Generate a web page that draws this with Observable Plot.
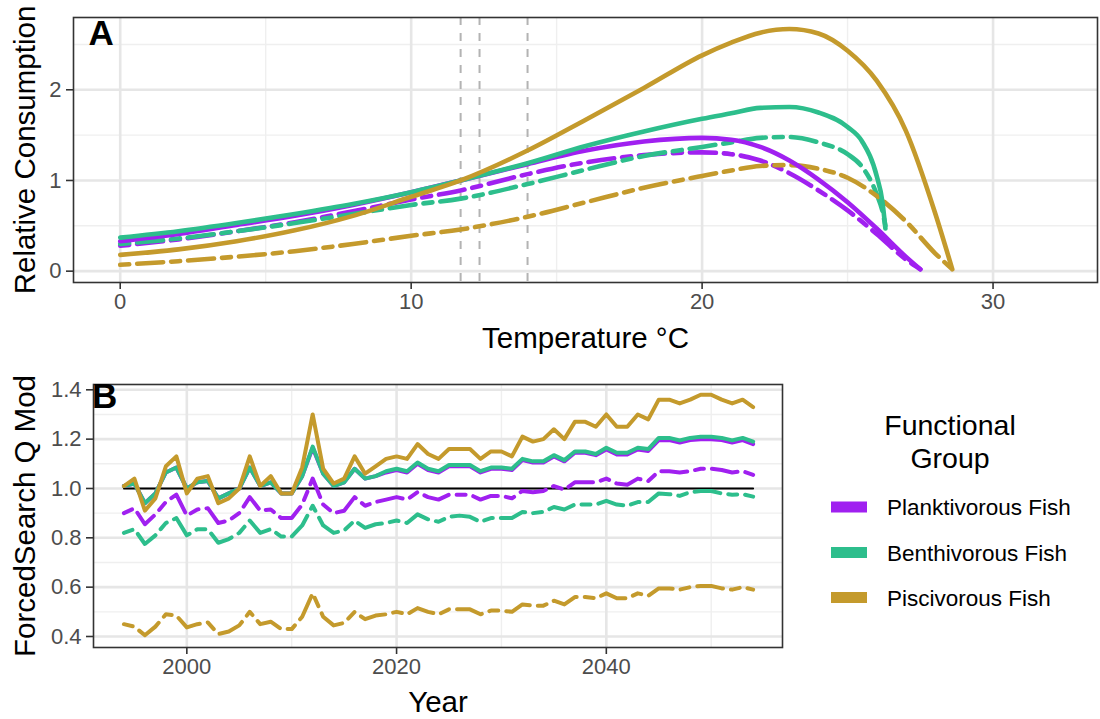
<!DOCTYPE html>
<html><head><meta charset="utf-8">
<script src="https://cdn.jsdelivr.net/npm/d3@7"></script>
<script src="https://cdn.jsdelivr.net/npm/@observablehq/plot@0.6"></script>
<style>
body{margin:0;background:#fff;}
#root{position:relative;width:1100px;height:719px;overflow:hidden;background:#fff;font-family:"Liberation Sans",Arial,sans-serif;}
#root svg{position:absolute;overflow:visible;}
</style></head><body><div id="root"></div>
<script>
// ---------- shared ----------
const groups = ["Planktivorous Fish", "Benthivorous Fish", "Piscivorous Fish"];
const colors = ["#A020F0", "#2DBE8C", "#C49A2C"];

// ---------- Panel A: Relative consumption vs temperature ----------
const plankT   = [0,2,4,6,8,10,11.7,14,16,18,20,21,22,23,24,25,26,27,27.5];
const plankNow = [0.33,0.41,0.51,0.61,0.73,0.87,1.0,1.18,1.33,1.43,1.47,1.45,1.37,1.22,1.01,0.76,0.47,0.16,0.02];
const plankFut = [0.28,0.35,0.44,0.54,0.66,0.79,0.89,1.07,1.20,1.28,1.31,1.29,1.22,1.08,0.89,0.67,0.41,0.13,0.02];

const benthT   = [0,2,4,6,8,10,11.7,14,16,18,20,21,22,23,24,25,25.5,26,26.2,26.3];
const benthNow = [0.37,0.44,0.53,0.63,0.74,0.87,1.0,1.19,1.38,1.54,1.68,1.74,1.80,1.81,1.75,1.59,1.43,1.05,0.76,0.47];
const benthFut = [0.30,0.36,0.44,0.53,0.63,0.73,0.80,0.96,1.12,1.27,1.37,1.42,1.47,1.48,1.42,1.29,1.15,0.85,0.66,0.50];

const pisciT   = [0,2,4,6,8,10,11.7,14,16,18,20,21,22,23,24,25,26,27,28,28.6];
const pisciNow = [0.18,0.24,0.33,0.45,0.61,0.82,1.0,1.33,1.67,2.02,2.38,2.52,2.63,2.67,2.62,2.43,2.10,1.55,0.65,0.02];
const pisciFut = [0.07,0.11,0.16,0.22,0.30,0.39,0.46,0.60,0.76,0.92,1.05,1.11,1.16,1.17,1.13,1.03,0.83,0.55,0.20,0.02];

const refTemps = [11.7, 12.35, 14.0];
const tempTicks = [0, 10, 20, 30];
const tempMinor = [5, 15, 25];
const consTicks = [0, 1, 2];
const consMinor = [0.5, 1.5, 2.5];

// ---------- Panel B: ForcedSearch Q Mod by year ----------
const years = d3.range(1994, 2055);
const plankQ = [1.01,1.02,0.94,0.98,1.065,1.085,1.00,1.025,1.03,0.96,
  0.98,1.00,1.085,1.01,1.025,0.98,0.98,1.05,1.165,1.06,
  1.01,1.025,1.08,1.04,1.05,1.065,1.075,1.065,1.10,1.075,
  1.065,1.09,1.09,1.09,1.065,1.08,1.08,1.075,1.115,1.105,
  1.105,1.13,1.11,1.145,1.145,1.135,1.158,1.138,1.138,1.158,
  1.152,1.196,1.196,1.186,1.196,1.20,1.20,1.196,1.186,1.196,1.18];
const benthQ = [1.01,1.02,0.94,0.98,1.065,1.085,1.00,1.025,1.03,0.96,
  0.98,1.00,1.085,1.01,1.025,0.98,0.98,1.05,1.17,1.06,
  1.01,1.025,1.08,1.04,1.05,1.07,1.08,1.07,1.105,1.08,
  1.07,1.095,1.095,1.095,1.07,1.085,1.085,1.08,1.12,1.11,
  1.11,1.135,1.115,1.15,1.15,1.14,1.165,1.145,1.145,1.165,
  1.16,1.205,1.205,1.195,1.205,1.21,1.21,1.205,1.195,1.205,1.19];
const pisciQ = [1.01,1.04,0.91,0.96,1.09,1.13,0.98,1.04,1.05,0.94,
  0.96,1.00,1.13,1.01,1.05,0.98,0.98,1.085,1.30,1.08,
  1.02,1.04,1.13,1.06,1.09,1.12,1.13,1.12,1.18,1.14,
  1.12,1.16,1.16,1.16,1.12,1.15,1.15,1.13,1.21,1.19,
  1.20,1.24,1.20,1.27,1.27,1.25,1.30,1.25,1.25,1.30,
  1.28,1.36,1.36,1.345,1.36,1.38,1.38,1.36,1.345,1.36,1.33];
const plankQfut = [0.90,0.92,0.855,0.895,0.945,0.975,0.89,0.915,0.92,0.86,
  0.87,0.90,0.965,0.91,0.915,0.88,0.88,0.935,1.04,0.935,
  0.90,0.91,0.965,0.93,0.945,0.955,0.965,0.955,0.985,0.965,
  0.955,0.975,0.975,0.975,0.955,0.97,0.97,0.96,0.99,0.985,
  0.99,1.01,0.995,1.025,1.025,1.025,1.04,1.02,1.015,1.04,
  1.03,1.07,1.07,1.065,1.07,1.08,1.08,1.075,1.065,1.07,1.055];
const benthQfut = [0.82,0.835,0.775,0.81,0.86,0.88,0.81,0.835,0.835,0.78,
  0.795,0.82,0.87,0.82,0.835,0.805,0.805,0.85,0.93,0.85,
  0.82,0.83,0.87,0.84,0.855,0.86,0.87,0.86,0.895,0.875,
  0.865,0.885,0.89,0.885,0.865,0.88,0.88,0.88,0.905,0.90,
  0.905,0.925,0.915,0.935,0.935,0.935,0.95,0.935,0.93,0.945,
  0.945,0.98,0.977,0.97,0.985,0.99,0.99,0.98,0.975,0.977,0.967];
const pisciQfut = [0.45,0.44,0.405,0.44,0.49,0.485,0.437,0.45,0.457,0.41,
  0.42,0.445,0.50,0.45,0.46,0.43,0.43,0.48,0.575,0.48,
  0.445,0.455,0.50,0.47,0.485,0.49,0.50,0.49,0.515,0.50,
  0.49,0.51,0.51,0.51,0.49,0.505,0.505,0.50,0.53,0.525,
  0.525,0.545,0.53,0.56,0.56,0.555,0.575,0.555,0.555,0.575,
  0.565,0.595,0.595,0.59,0.60,0.605,0.605,0.595,0.59,0.60,0.59];
const baseline = [{year: 1994, v: 1}, {year: 2054, v: 1}];
const yearTicks = [2000, 2020, 2040];
const yearMinor = [2010, 2030, 2050];
const qTicks = [0.4, 0.6, 0.8, 1.0, 1.2, 1.4];
const qMinor = [0.5, 0.7, 0.9, 1.1, 1.3];

// ---------- build tables ----------
function rows(xs, vs, g, s, xk) { return xs.map((x, i) => ({[xk]: x, v: vs[i], g, s})); }
const solidA = [...rows(plankT, plankNow, groups[0], "now", "t"), ...rows(benthT, benthNow, groups[1], "now", "t"), ...rows(pisciT, pisciNow, groups[2], "now", "t")];
const dashA  = [...rows(plankT, plankFut, groups[0], "fut", "t"), ...rows(benthT, benthFut, groups[1], "fut", "t"), ...rows(pisciT, pisciFut, groups[2], "fut", "t")];
const solidB = [...rows(years, plankQ, groups[0], "now", "year"), ...rows(years, benthQ, groups[1], "now", "year"), ...rows(years, pisciQ, groups[2], "now", "year")];
const dashB  = [...rows(years, plankQfut, groups[0], "fut", "year"), ...rows(years, benthQfut, groups[1], "fut", "year"), ...rows(years, pisciQfut, groups[2], "fut", "year")];

const font = "Liberation Sans, Arial, sans-serif";
const majorGrid = {stroke: "#e6e6e6", strokeWidth: 2.6};
const minorGrid = {stroke: "#efefef", strokeWidth: 1.4};
const dash = "9,8,26,8";
const axisStyle = {tickSize: 7, fontSize: 22, color: "#4d4d4d", stroke: "#333333", strokeWidth: 1.6, label: null};
const root = document.getElementById("root");

// ---------- Plot A ----------
const plotA = Plot.plot({
  width: 1100, height: 350,
  marginLeft: 73, marginRight: 3, marginTop: 17, marginBottom: 68,
  style: {fontFamily: font, background: "transparent", overflow: "visible"},
  x: {domain: [-1.606, 33.59]},
  y: {domain: [-0.125, 2.797]},
  color: {domain: groups, range: colors},
  marks: [
    Plot.ruleX(tempMinor, minorGrid),
    Plot.ruleY(consMinor, minorGrid),
    Plot.ruleX(tempTicks, majorGrid),
    Plot.ruleY(consTicks, majorGrid),
    Plot.ruleX(refTemps, {stroke: "#b3b3b3", strokeWidth: 2, strokeDasharray: "8,8"}),
    Plot.line(dashA, {x: "t", y: "v", z: "g", stroke: "g", strokeWidth: 4.6, strokeDasharray: dash, curve: "monotone-x"}),
    Plot.line(solidA, {x: "t", y: "v", z: "g", stroke: "g", strokeWidth: 4.6, curve: "monotone-x"}),
    Plot.frame({stroke: "#333333", strokeWidth: 1.6}),
    Plot.axisX({...axisStyle, ticks: tempTicks, tickFormat: d3.format("d"), tickPadding: 4}),
    Plot.axisY({...axisStyle, ticks: consTicks, tickFormat: d3.format("d"), tickPadding: 5}),
    Plot.text(["Temperature °C"], {text: d => d, frameAnchor: "bottom", dy: 65, lineAnchor: "bottom", fontSize: 29.5, fill: "black"}),
    Plot.text(["Relative Consumption"], {text: d => d, frameAnchor: "left", dx: -39, rotate: -90, textAnchor: "middle", lineAnchor: "bottom", fontSize: 29.5, fill: "black"}),
    Plot.text(["A"], {text: d => d, frameAnchor: "top-left", dx: 15, dy: 27, textAnchor: "start", lineAnchor: "bottom", fontSize: 35, fontWeight: "bold", fill: "black"})
  ]
});
plotA.style.left = "0px"; plotA.style.top = "0px";
root.appendChild(plotA);

// ---------- Plot B ----------
const plotB = Plot.plot({
  width: 790, height: 359,
  marginLeft: 93, marginRight: 8, marginTop: 24, marginBottom: 72,
  style: {fontFamily: font, background: "transparent", overflow: "visible"},
  x: {domain: [1991.1, 2056.8]},
  y: {domain: [0.3554, 1.4215]},
  color: {domain: groups, range: colors},
  marks: [
    Plot.ruleX(yearMinor, minorGrid),
    Plot.ruleY(qMinor, minorGrid),
    Plot.ruleX(yearTicks, majorGrid),
    Plot.ruleY(qTicks, majorGrid),
    Plot.line(baseline, {x: "year", y: "v", stroke: "black", strokeWidth: 2}),
    Plot.line(dashB, {x: "year", y: "v", z: "g", stroke: "g", strokeWidth: 4, strokeDasharray: dash}),
    Plot.line(solidB, {x: "year", y: "v", z: "g", stroke: "g", strokeWidth: 4}),
    Plot.frame({stroke: "#333333", strokeWidth: 1.6}),
    Plot.axisX({...axisStyle, ticks: yearTicks, tickFormat: d3.format("d"), tickPadding: 4}),
    Plot.axisY({...axisStyle, ticks: qTicks, tickFormat: d3.format(".1f"), tickPadding: 5}),
    Plot.text(["Year"], {text: d => d, frameAnchor: "bottom", dy: 64.7, lineAnchor: "bottom", fontSize: 29.5, fill: "black"}),
    Plot.text(["ForcedSearch Q Mod"], {text: d => d, frameAnchor: "left", dx: -59, rotate: -90, textAnchor: "middle", lineAnchor: "bottom", fontSize: 29.5, fill: "black"}),
    Plot.text(["B"], {text: d => d, frameAnchor: "top-left", dx: -1.5, dy: 23, textAnchor: "start", lineAnchor: "bottom", fontSize: 35, fontWeight: "bold", fill: "black"})
  ]
});
plotB.style.left = "0px"; plotB.style.top = "360px";
root.appendChild(plotB);

// ---------- Legend ----------
const leg = d3.select(root).append("svg")
  .attr("width", 1100).attr("height", 719)
  .style("left", "0px").style("top", "0px")
  .style("font-family", font);
leg.append("text").attr("x", 950).attr("y", 435).attr("text-anchor", "middle")
  .attr("font-size", 28.5).attr("fill", "black").text("Functional");
leg.append("text").attr("x", 950).attr("y", 468).attr("text-anchor", "middle")
  .attr("font-size", 28.5).attr("fill", "black").text("Group");
const legY = [507, 552.5, 597.5];
groups.forEach((g, i) => {
  leg.append("rect").attr("x", 831).attr("y", legY[i] - 5.5).attr("width", 36).attr("height", 11).attr("fill", colors[i]);
  leg.append("text").attr("x", 887).attr("y", legY[i] + 8).attr("font-size", 22.5).attr("fill", "black").text(g);
});
</script></body></html>
